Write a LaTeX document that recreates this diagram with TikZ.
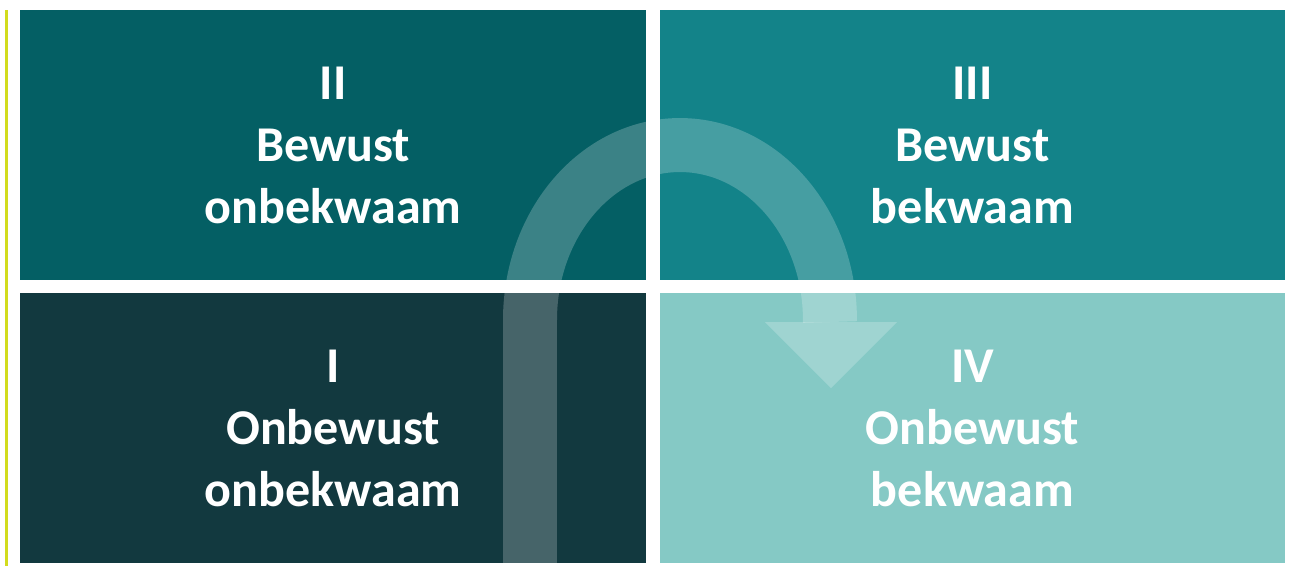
\documentclass[tikz,border=0pt]{standalone}
\usepackage{fontspec}
\setmainfont{Carlito}
\definecolor{quadone}{HTML}{12393F}
\definecolor{quadtwo}{HTML}{045F64}
\definecolor{quadthree}{HTML}{138389}
\definecolor{quadfour}{HTML}{85C9C5}
\definecolor{sideline}{HTML}{D2DC1E}
\begin{document}
\begin{tikzpicture}[x=0.02cm,y=-0.02cm]
  \tikzset{
    quad/.style={minimum width=12.52cm, minimum height=5.4cm, inner sep=0pt,
      text=white, align=center, font=\fontsize{28.5}{35.3}\selectfont\bfseries},
    band/.style={draw=white, draw opacity=0.22, line width=1.08cm},
    bandhead/.style={fill=white, fill opacity=0.22}
  }
  % Canvas
  \useasboundingbox[fill=white] (0,0) rectangle (1289,566);

  % Side line
  \draw[sideline, line width=0.06cm] (6.5,10) -- (6.5,566);

  % Quadrants
  \node[quad, fill=quadtwo] (twee) at (333,145) {II\\Bewust\\onbekwaam};
  \node[quad, fill=quadthree] (drie) at (972.5,145) {III\\Bewust\\bekwaam};
  \node[quad, fill=quadone] (een) at (333,428) {I\\Onbewust\\onbekwaam};
  \node[quad, fill=quadfour] (vier) at (972.5,428) {IV\\Onbewust\\bekwaam};

  % Curved arrow from I to IV
  \coordinate (start) at (530,566);
  \coordinate (bend) at (530,320);
  \coordinate (stop) at (830,322);
  \draw[band] (start) -- (bend)
    arc[start angle=180, end angle=0, x radius=3cm, y radius=3.5cm] -- (stop);
  \fill[bandhead] (765,322) -- (897,322) -- (831,388) -- cycle;
\end{tikzpicture}
\end{document}
